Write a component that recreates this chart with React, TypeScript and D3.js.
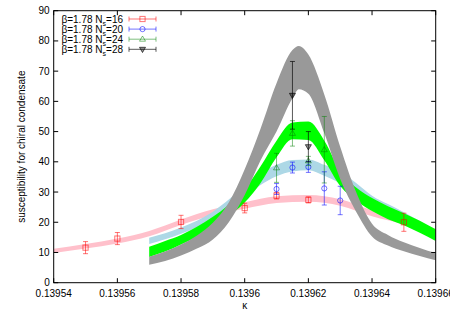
import React from "react";
import * as d3 from "d3";

// ---- axis ticks ----
const xTicks = [0.13954, 0.13956, 0.13958, 0.1396, 0.13962, 0.13964, 0.13966];
const xTickLabels = ["0.13954", "0.13956", "0.13958", "0.1396", "0.13962", "0.13964", "0.13966"];
const yTicks = [0, 10, 20, 30, 40, 50, 60, 70, 80, 90];

// ---- bands (reweighting curves) ----
const kappa16 = [0.13954, 0.13955, 0.13956, 0.13957, 0.13958, 0.13959, 0.1396, 0.13961, 0.13962, 0.13963, 0.13964, 0.13965, 0.13966];
const lo16 = [9.8, 11.3, 13.0, 15.4, 19.1, 22.4, 24.5, 26.4, 26.8, 25.5, 22.0, 19.3, 16.0];
const hi16 = [11.2, 12.8, 14.6, 17.1, 20.9, 24.3, 26.6, 28.6, 29.0, 27.6, 24.0, 21.3, 17.8];

const kappa20 = [0.13957, 0.13958, 0.13959, 0.139595, 0.1396, 0.139605, 0.13961, 0.139615, 0.13962, 0.139625, 0.13963, 0.139635, 0.13964, 0.139645, 0.13965, 0.13966];
const lo20 = [12.8, 16.2, 21.0, 24.5, 28.5, 32.3, 35.2, 36.8, 37.2, 35.4, 32.8, 29.0, 25.0, 22.5, 20.0, 14.5];
const hi20 = [14.9, 18.3, 23.5, 27.5, 32.0, 36.2, 39.0, 40.6, 40.8, 39.0, 36.8, 33.0, 28.8, 26.0, 23.3, 17.3];

const kappa24 = [0.13957, 0.139575, 0.13958, 0.139585, 0.13959, 0.139595, 0.1396, 0.139605, 0.13961, 0.139615, 0.13962, 0.139625, 0.13963, 0.139635, 0.13964, 0.139645, 0.13965, 0.139655, 0.13966];
const lo24 = [8.5, 10.3, 12.6, 15.2, 18.3, 22.0, 26.5, 33.0, 41.5, 47.5, 47.2, 40.5, 32.0, 27.2, 23.7, 21.0, 19.0, 16.5, 13.8];
const hi24 = [11.9, 13.8, 15.8, 18.5, 21.8, 25.8, 31.0, 38.5, 47.0, 53.0, 53.3, 47.0, 37.0, 31.5, 28.0, 25.3, 23.0, 20.5, 17.7];

const kappa28 = [0.13957, 0.139575, 0.13958, 0.139585, 0.13959, 0.139595, 0.1396, 0.139605, 0.13961, 0.139615, 0.139617, 0.13962, 0.139625, 0.13963, 0.139635, 0.13964, 0.139645, 0.13965, 0.139655, 0.13966];
const lo28 = [5.9, 7.2, 9.0, 11.3, 14.3, 20.0, 29.0, 40.5, 50.0, 61.0, 64.0, 62.5, 49.5, 34.3, 23.5, 15.3, 12.3, 10.4, 8.8, 7.4];
const hi28 = [8.6, 10.3, 12.6, 15.6, 19.8, 26.5, 37.5, 51.0, 66.0, 77.0, 78.3, 75.5, 62.3, 45.0, 30.0, 19.5, 15.8, 13.4, 11.5, 9.8];

// ---- measured points ----
const ptK16 = [0.13955, 0.13956, 0.13958, 0.1396, 0.13961, 0.13962, 0.13965];
const ptV16 = [11.6, 14.6, 20.1, 24.7, 28.8, 27.4, 20.0];
const ptE16 = [2.0, 2.0, 2.2, 1.6, 1.1, 1.0, 3.0];

const ptK20 = [0.13961, 0.139615, 0.13962, 0.139625, 0.13963];
const ptV20 = [31.0, 38.1, 38.3, 31.2, 27.2];
const ptE20 = [1.8, 1.8, 1.8, 5.5, 4.7];

const ptK24 = [0.13961, 0.139615, 0.13962, 0.139625];
const ptV24 = [38.0, 49.4, 40.3, 44.0];
const ptE24 = [4.8, 4.2, 1.5, 11.0];

const ptK28 = [0.139615, 0.13962];
const ptV28 = [62.0, 45.0];
const ptE28 = [11.2, 5.0];

const legendLabels = ["16", "20", "24", "28"];

const W = 450, H = 314;
const L = 53.7, R = 435.7, T = 10.7, B = 282.7;
const FONT = "'Liberation Sans', Arial, Helvetica, sans-serif";

type Band = { k: number[]; lo: number[]; hi: number[]; fill: string };
type Pts = { k: number[]; v: number[]; e: number[]; color: string; marker: string; fillM: string };

export default function App() {
  const x = d3.scaleLinear().domain([0.13954, 0.13966]).range([L, R]);
  const y = d3.scaleLinear().domain([0, 90]).range([B, T]);

  const bands: Band[] = [
    { k: kappa16, lo: lo16, hi: hi16, fill: "#ffc0cb" },
    { k: kappa20, lo: lo20, hi: hi20, fill: "#add8e6" },
    { k: kappa24, lo: lo24, hi: hi24, fill: "#00ff00" },
    { k: kappa28, lo: lo28, hi: hi28, fill: "#999999" },
  ];

  const series: Pts[] = [
    { k: ptK16, v: ptV16, e: ptE16, color: "rgba(255,0,0,0.55)", marker: "square", fillM: "none" },
    { k: ptK20, v: ptV20, e: ptE20, color: "rgba(0,0,255,0.55)", marker: "circle", fillM: "none" },
    { k: ptK24, v: ptV24, e: ptE24, color: "rgba(0,128,0,0.5)", marker: "triangle", fillM: "none" },
    { k: ptK28, v: ptV28, e: ptE28, color: "rgba(0,0,0,0.65)", marker: "tridown", fillM: "rgba(0,0,0,0.4)" },
  ];

  const area = d3
    .area<number>()
    .curve(d3.curveMonotoneX);

  const bandPath = (b: Band) => {
    const idx = b.k.map((_, i) => i);
    return area
      .x((i) => x(b.k[i]))
      .y0((i) => y(b.lo[i]))
      .y1((i) => y(b.hi[i]))(idx) || "";
  };

  const marker = (kind: string, cx: number, cy: number, color: string, fill: string, key: string) => {
    const s = 2.6;
    if (kind === "square")
      return <rect key={key} x={cx - s} y={cy - s} width={2 * s} height={2 * s} fill="none" stroke={color} strokeWidth={1} />;
    if (kind === "circle")
      return <circle key={key} cx={cx} cy={cy} r={s} fill="none" stroke={color} strokeWidth={1} />;
    if (kind === "triangle")
      return <path key={key} d={`M${cx},${cy - 3.2}L${cx + 3},${cy + 2}L${cx - 3},${cy + 2}Z`} fill="none" stroke={color} strokeWidth={1} />;
    return <path key={key} d={`M${cx},${cy + 3.2}L${cx + 3},${cy - 2}L${cx - 3},${cy - 2}Z`} fill={fill} stroke={color} strokeWidth={1} />;
  };

  const cap = 2.5;

  return (
    <svg width={W} height={H} style={{ position: "absolute", left: 0, top: 0, background: "#fff" }} fontFamily={FONT}>
      <defs>
        <clipPath id="plotclip">
          <rect x={L} y={T} width={R - L} height={B - T} />
        </clipPath>
      </defs>
      <g clipPath="url(#plotclip)">
        {bands.map((b, i) => (
          <path key={"b" + i} d={bandPath(b)} fill={b.fill} stroke="none" />
        ))}
      </g>
      {/* error bars + markers */}
      {series.map((s, si) => (
        <g key={"s" + si}>
          {s.k.map((k, i) => {
            const cx = x(k);
            const y1 = y(s.v[i] + s.e[i]);
            const y0 = y(s.v[i] - s.e[i]);
            return (
              <g key={i}>
                <line x1={cx} x2={cx} y1={y1} y2={y0} stroke={s.color} strokeWidth={1} />
                <line x1={cx - cap} x2={cx + cap} y1={y1} y2={y1} stroke={s.color} strokeWidth={1} />
                <line x1={cx - cap} x2={cx + cap} y1={y0} y2={y0} stroke={s.color} strokeWidth={1} />
                {marker(s.marker, cx, y(s.v[i]), s.color, s.fillM, "m" + i)}
              </g>
            );
          })}
        </g>
      ))}
      {/* border */}
      <rect x={L} y={T} width={R - L} height={B - T} fill="none" stroke="#000" strokeWidth={1} />
      {/* x ticks */}
      {xTicks.map((t, i) => (
        <g key={"xt" + i}>
          <line x1={x(t)} x2={x(t)} y1={B} y2={B - 4.5} stroke="#000" />
          <line x1={x(t)} x2={x(t)} y1={T} y2={T + 4.5} stroke="#000" />
          <text x={x(t)} y={B + 14} textAnchor="middle" fontSize={10} fill="#000">
            {xTickLabels[i]}
          </text>
        </g>
      ))}
      {/* y ticks */}
      {yTicks.map((t, i) => (
        <g key={"yt" + i}>
          <line x1={L} x2={L + 4.5} y1={y(t)} y2={y(t)} stroke="#000" />
          <line x1={R} x2={R - 4.5} y1={y(t)} y2={y(t)} stroke="#000" />
          <text x={L - 4} y={y(t) + 3.5} textAnchor="end" fontSize={10} fill="#000">
            {t}
          </text>
        </g>
      ))}
      {/* axis labels */}
      <text x={(L + R) / 2} y={309} textAnchor="middle" fontSize={10} fill="#000">κ</text>
      <text transform={`translate(24.5,${(T + B) / 2}) rotate(-90)`} textAnchor="middle" fontSize={10} fill="#000">
        susceptibility for chiral condensate
      </text>
      {/* legend */}
      {series.map((s, i) => {
        const ly = 19 + i * 10.1;
        const x0 = 129, x1 = 156, xm = (x0 + x1) / 2;
        return (
          <g key={"lg" + i}>
            <text x={123} y={ly + 3.5} textAnchor="end" fontSize={10} fill="#000">
              β=1.78 N<tspan fontSize={7} dy={3}>s</tspan>
              <tspan dy={-3}>={legendLabels[i]}</tspan>
            </text>
            <line x1={x0} x2={x1} y1={ly} y2={ly} stroke={s.color} />
            <line x1={x0} x2={x0} y1={ly - 2.5} y2={ly + 2.5} stroke={s.color} />
            <line x1={x1} x2={x1} y1={ly - 2.5} y2={ly + 2.5} stroke={s.color} />
            {marker(s.marker, xm, ly, s.color, s.fillM, "lm" + i)}
          </g>
        );
      })}
    </svg>
  );
}
